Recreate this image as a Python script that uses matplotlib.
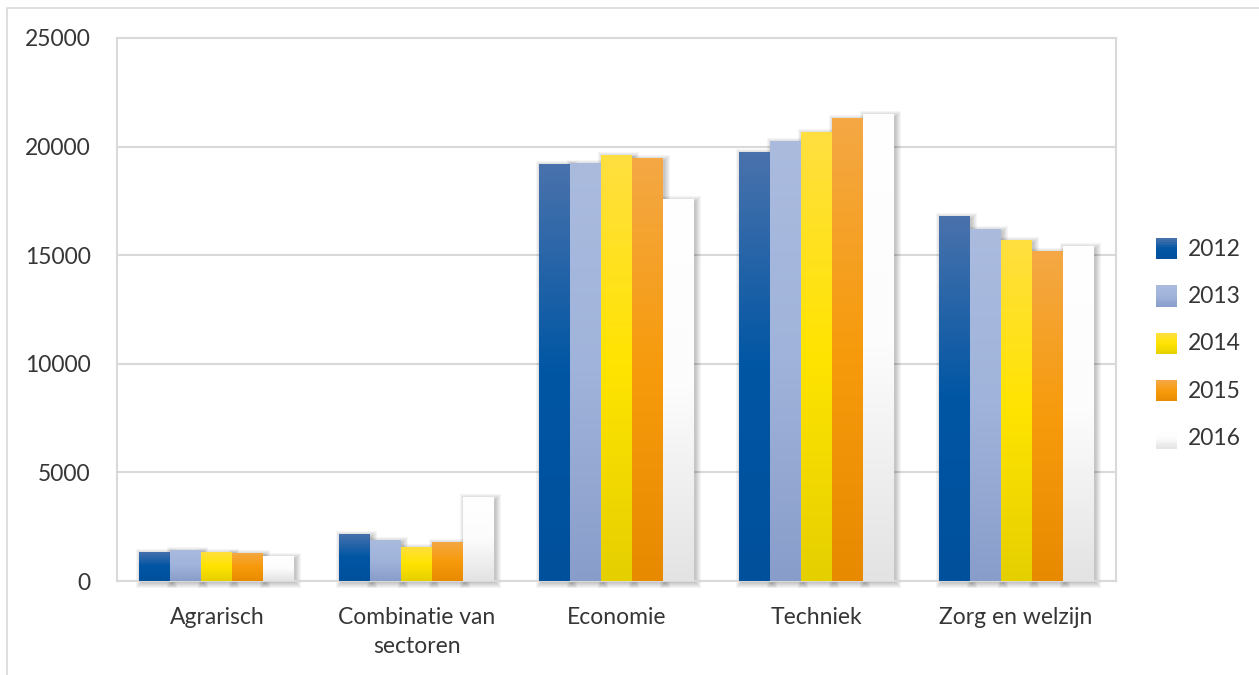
import numpy as np
import matplotlib
matplotlib.use("Agg")
import matplotlib.pyplot as plt
from matplotlib.colors import LinearSegmentedColormap
from matplotlib.patches import Rectangle
from matplotlib.legend_handler import HandlerBase

plt.rcParams['font.family'] = ['Lato', 'DejaVu Sans']

categories = ["Agrarisch", "Combinatie van\nsectoren", "Economie", "Techniek", "Zorg en welzijn"]
years = ["2012", "2013", "2014", "2015", "2016"]
v2012 = [1350, 2170, 19200, 19750, 16800]
v2013 = [1430, 1890, 19250, 20260, 16200]
v2014 = [1340, 1570, 19610, 20670, 15700]
v2015 = [1290, 1800, 19480, 21320, 15190]
v2016 = [1150, 3870, 17590, 21500, 15420]
series = [v2012, v2013, v2014, v2015, v2016]

# gradient stops per series: top, middle, bottom
gradients = [
    ["#4A72AC", "#0056A4", "#00509C"],
    ["#AABBDE", "#A0B3DA", "#889DCA"],
    ["#FFDF40", "#FFE400", "#E5CF00"],
    ["#F4A845", "#F79B0C", "#E88A00"],
    ["#FFFFFF", "#FCFCFC", "#E3E3E3"],
]

W, H = 1259, 675
fig = plt.figure(figsize=(W / 100, H / 100), dpi=100)
ax_left, ax_bottom, ax_w, ax_h = 117, 581, 999, 543
ax = fig.add_axes([ax_left / W, 1 - ax_bottom / H, ax_w / W, ax_h / H])

# outer chart frame
fig.add_artist(Rectangle((7 / W, -0.01), 1.02, 1 - 8 / H + 0.01,
                         transform=fig.transFigure, fill=False,
                         edgecolor="#D9D9D9", linewidth=1.2))

n = len(years)
bar_w = 0.155
x = np.arange(len(categories))
xmin, xmax, ymax = -0.5, len(categories) - 0.5, 25000
ax.set_xlim(xmin, xmax)
ax.set_ylim(0, ymax)
px_x = (xmax - xmin) / ax_w
px_y = ymax / ax_h

grid_color = "#D9D9D9"
for yv in range(5000, 25001, 5000):
    ax.axhline(yv, color=grid_color, linewidth=1.5, zorder=0)
ax.axhline(0, color=grid_color, linewidth=1.5, zorder=1)

for s in ax.spines.values():
    s.set_color(grid_color)
    s.set_linewidth(1.5)

for i, (vals, stops) in enumerate(zip(series, gradients)):
    cmap = LinearSegmentedColormap.from_list(f"g{i}", [stops[2], stops[1], stops[0]])
    offs = (i - (n - 1) / 2) * bar_w
    bars = ax.bar(x + offs, vals, bar_w, color="none", edgecolor="none", zorder=3,
                  label=years[i])
    for b in bars:
        x0, w, h = b.get_x(), b.get_width(), b.get_height()
        # soft drop shadow, slightly offset to the lower right
        dx, dy = 2 * px_x, -2 * px_y
        for e in range(6):
            ex, ey = e * px_x, e * px_y
            ax.add_patch(Rectangle((x0 + dx - ex, dy - ey), w + 2 * ex, h + 2 * ey,
                                   facecolor="black", edgecolor="none", alpha=0.04,
                                   zorder=2, clip_on=False))
        grad = np.linspace(0, 1, 256).reshape(-1, 1)
        im = ax.imshow(grad, cmap=cmap, origin="lower", aspect="auto",
                       extent=[x0, x0 + w, 0, h], zorder=3, interpolation="bilinear")
        im.set_clip_path(Rectangle((x0, 0), w, h, transform=ax.transData))

ax.set_xlim(xmin, xmax)
ax.set_ylim(0, ymax)

font_kw = dict(fontsize=16.5, color="#363636")
ax.set_xticks(x)
ax.set_xticklabels(categories, linespacing=1.45, **font_kw)
ax.set_yticks(range(0, 25001, 5000))
ax.set_yticklabels([str(v) for v in range(0, 25001, 5000)], **font_kw)
ax.tick_params(axis="both", length=0)
ax.tick_params(axis="y", pad=19)
ax.tick_params(axis="x", pad=19)


class GradientHandler(HandlerBase):
    def __init__(self, stops):
        super().__init__()
        self.stops = stops

    def create_artists(self, legend, orig_handle, xdescent, ydescent, width, height,
                       fontsize, trans):
        arts = []
        size = 15
        xs = xdescent + width - size
        ys = -ydescent + (height - size) / 2 - 1
        cm = LinearSegmentedColormap.from_list("lg", [self.stops[2], self.stops[1], self.stops[0]])
        steps = 12
        for k in range(steps):
            arts.append(Rectangle((xs, ys + k * size / steps), size, size / steps + 0.3,
                                  facecolor=cm((k + 0.5) / steps), edgecolor="none",
                                  transform=trans))
        return arts


handles = [Rectangle((0, 0), 1, 1) for _ in years]
leg = ax.legend(handles, years, loc="center left", bbox_to_anchor=(1.020, 0.437),
                frameon=False, prop={"size": 16.5}, labelspacing=1.15,
                handlelength=0.9, handletextpad=0.45,
                handler_map={h: GradientHandler(g) for h, g in zip(handles, gradients)})
for t in leg.get_texts():
    t.set_color("#363636")

fig.savefig("out.png", dpi=100, facecolor="white")
